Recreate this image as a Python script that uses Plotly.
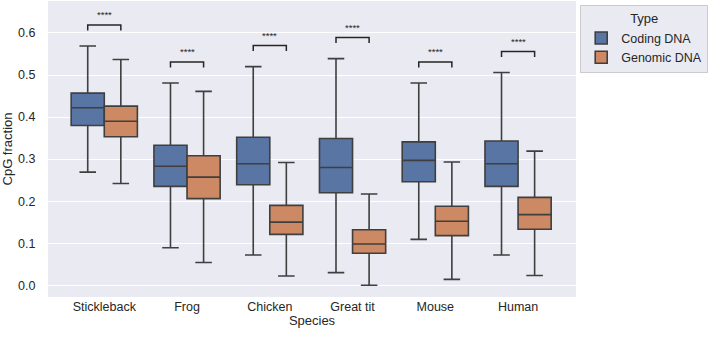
import plotly.graph_objects as go

species = ["Stickleback", "Frog", "Chicken", "Great tit", "Mouse", "Human"]

coding_low = [0.269, 0.089, 0.072, 0.030, 0.109, 0.072]
coding_q1 = [0.380, 0.235, 0.239, 0.220, 0.246, 0.235]
coding_med = [0.422, 0.283, 0.289, 0.280, 0.297, 0.289]
coding_q3 = [0.457, 0.333, 0.352, 0.349, 0.341, 0.343]
coding_high = [0.569, 0.481, 0.520, 0.539, 0.481, 0.506]

genomic_low = [0.242, 0.054, 0.022, 0.000, 0.014, 0.023]
genomic_q1 = [0.353, 0.206, 0.121, 0.076, 0.118, 0.133]
genomic_med = [0.390, 0.257, 0.150, 0.098, 0.152, 0.168]
genomic_q3 = [0.426, 0.308, 0.190, 0.132, 0.188, 0.209]
genomic_high = [0.537, 0.461, 0.292, 0.217, 0.293, 0.319]

significance = ["****"] * 6
y_ticks = [0.0, 0.1, 0.2, 0.3, 0.4, 0.5, 0.6]

LINE = "#3f3f3f"
BLUE = "#5975a4"
ORANGE = "#cc8963"
FONT = "Liberation Sans, Arial, sans-serif"

fig = go.Figure()
fig.add_trace(go.Box(
    name="Coding DNA", x=species, q1=coding_q1, median=coding_med, q3=coding_q3,
    lowerfence=coding_low, upperfence=coding_high,
    fillcolor=BLUE, line=dict(color=LINE, width=1.6), whiskerwidth=0.5,
    boxpoints=False, hoverinfo="skip"))
fig.add_trace(go.Box(
    name="Genomic DNA", x=species, q1=genomic_q1, median=genomic_med, q3=genomic_q3,
    lowerfence=genomic_low, upperfence=genomic_high,
    fillcolor=ORANGE, line=dict(color=LINE, width=1.6), whiskerwidth=0.5,
    boxpoints=False, hoverinfo="skip"))

shapes = []
annotations = []
for i, (ch, gh, s) in enumerate(zip(coding_high, genomic_high, significance)):
    top = max(ch, gh) + 0.05
    drop = 0.013
    shapes.append(dict(type="path", xref="x", yref="y",
                       path=f"M {i-0.2},{top-drop} L {i-0.2},{top} L {i+0.2},{top} L {i+0.2},{top-drop}",
                       line=dict(color="#262626", width=1.5)))
    annotations.append(dict(x=i, y=top + 0.006, xref="x", yref="y", text=s, showarrow=False,
                            yanchor="bottom", font=dict(size=9.5, color="#262626", family=FONT)))

fig.update_layout(
    width=709, height=339,
    margin=dict(l=48, r=133, t=1, b=42),
    paper_bgcolor="white", plot_bgcolor="#eaeaf2",
    boxmode="group", boxgap=0.2, boxgroupgap=0,
    font=dict(family=FONT, size=12, color="#262626"),
    shapes=shapes, annotations=annotations,
    legend=dict(title=dict(text="Type", side="top center", font=dict(size=13)),
                x=1.008, xanchor="left", y=0.985, yanchor="top",
                bgcolor="#eaeaf2", bordercolor="#cccccc", borderwidth=1,
                itemwidth=30, font=dict(size=12.5), tracegroupgap=0),
    xaxis=dict(range=[-0.68, 5.7], showgrid=False, zeroline=False, automargin=False,
               title=dict(text="Species", font=dict(size=13), standoff=2),
               tickfont=dict(size=12.5), ticks=""),
    yaxis=dict(range=[-0.028, 0.676], tickvals=y_ticks, tickformat=".1f",
               gridcolor="white", gridwidth=1.2, zeroline=False, automargin=False,
               ticks="outside", ticklen=9, tickcolor="rgba(0,0,0,0)",
               title=dict(text="CpG fraction", font=dict(size=13), standoff=2),
               tickfont=dict(size=12.5)),
)

fig.write_html("out.html", config={"displayModeBar": False},
               post_script="document.body.style.margin='0';document.body.style.padding='0';")
